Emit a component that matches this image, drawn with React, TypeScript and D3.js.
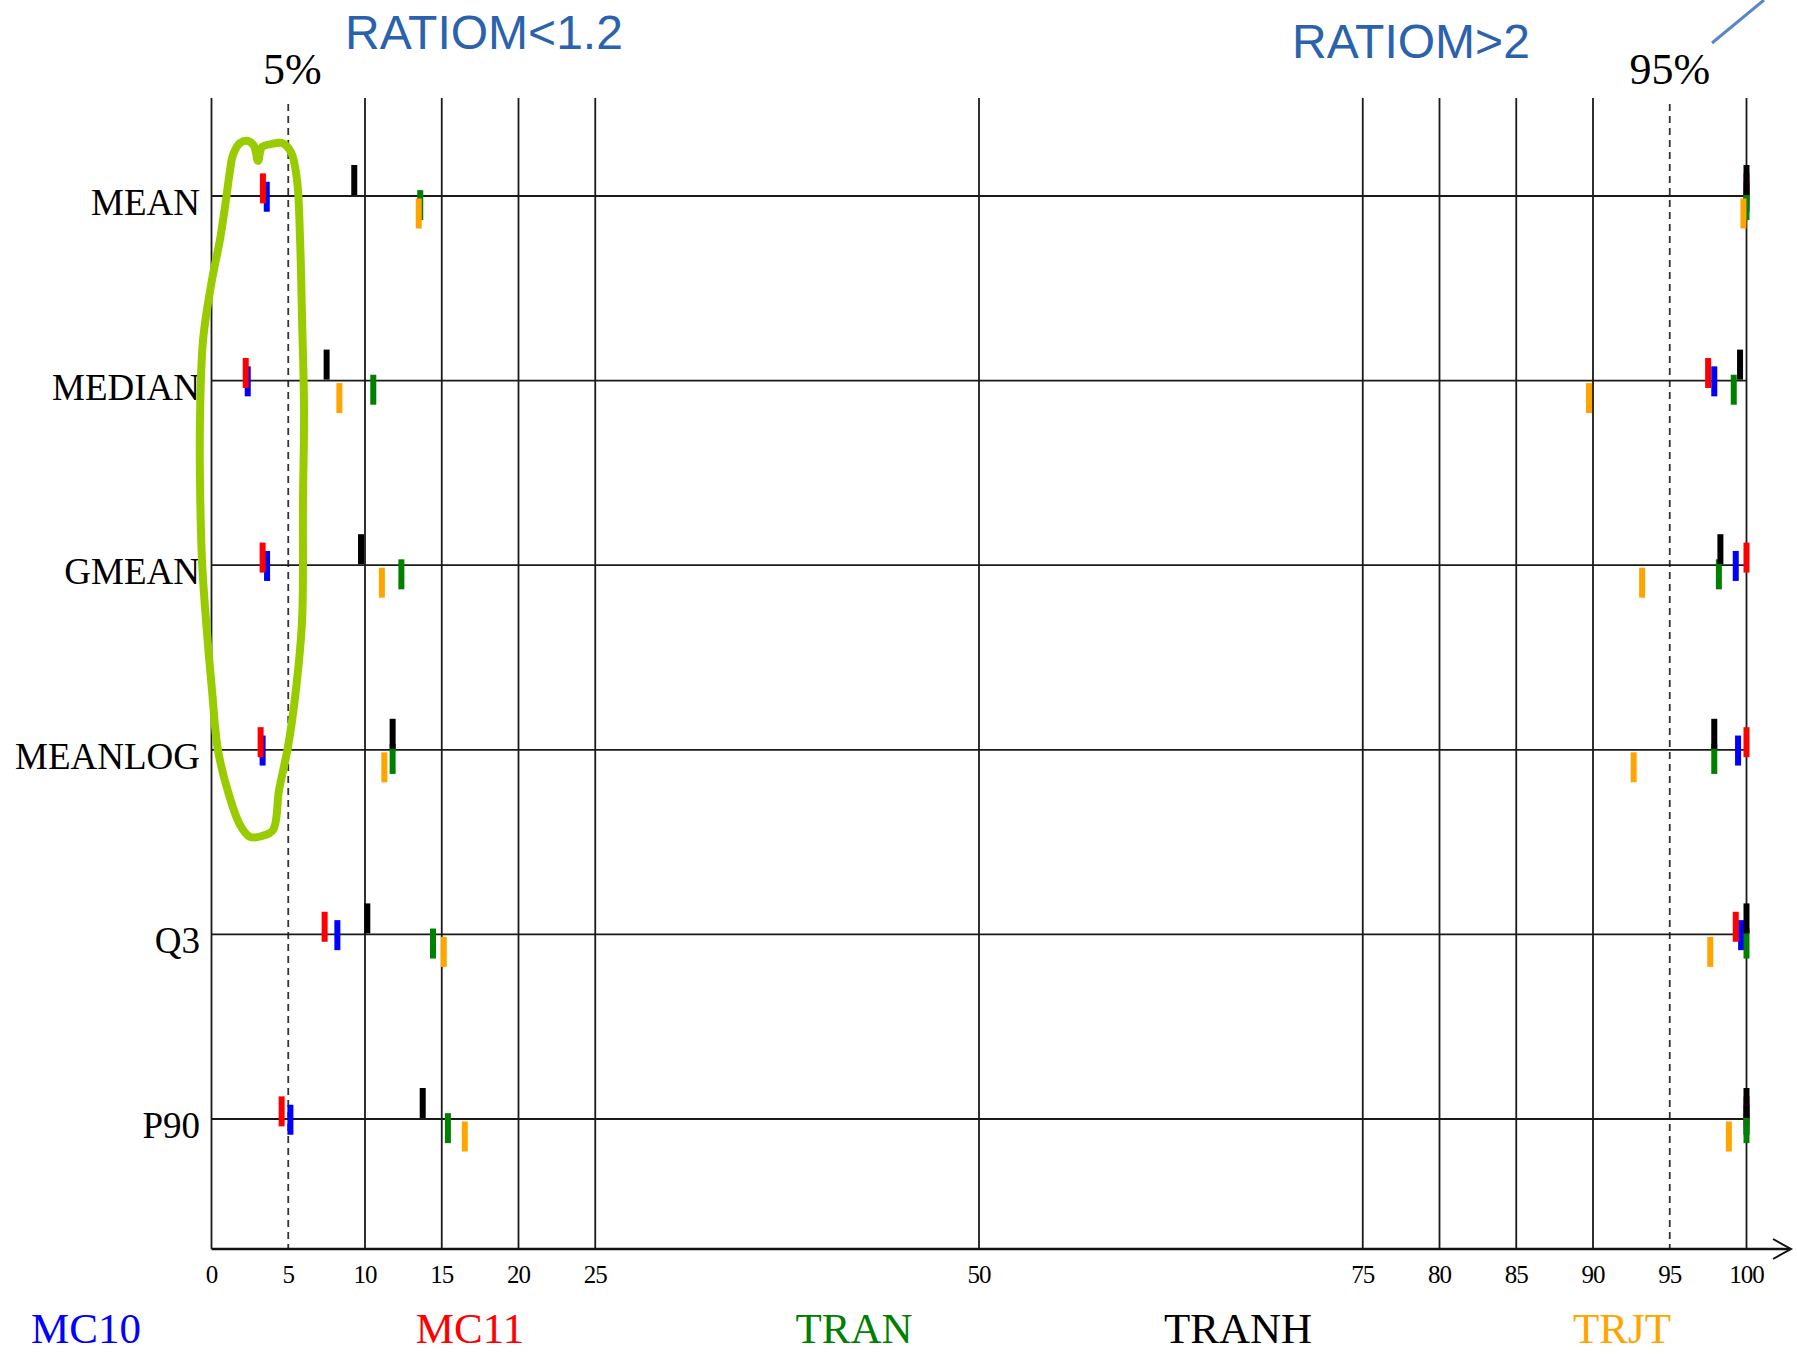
import React from 'react';
import * as d3 from 'd3';

// row categories (top to bottom)
const rows = ['MEAN', 'MEDIAN', 'GMEAN', 'MEANLOG', 'Q3', 'P90'];

// series, in legend (and drawing) order
const seriesNames = ['MC10', 'MC11', 'TRAN', 'TRANH', 'TRJT'];
const seriesColors = ['#0000ff', '#ff0000', '#008000', '#000000', '#ffa500'];

// percentages where RATIOM < 1.2 (left cluster)
const mc10Low = [3.6, 2.36, 3.62, 3.33, 8.2, 5.14];
const mc11Low = [3.35, 2.23, 3.33, 3.2, 7.37, 4.57];
const tranLow = [13.6, 10.54, 12.37, 11.8, 14.43, 15.4];
const tranhLow = [9.3, 7.5, 9.74, 11.8, 10.15, 13.76];
const trjtLow = [13.5, 8.33, 11.1, 11.26, 15.13, 16.5];

// percentages where RATIOM > 2 (right cluster)
const mc10High = [100, 97.9, 99.3, 99.45, 99.65, 100];
const mc11High = [100, 97.5, 100, 100, 99.3, 100];
const tranHigh = [100, 99.17, 98.2, 97.9, 100, 100];
const tranhHigh = [100, 99.58, 98.3, 97.9, 100, 100];
const trjtHigh = [99.8, 89.74, 93.2, 92.65, 97.64, 98.85];

const lowValues = [mc10Low, mc11Low, tranLow, tranhLow, trjtLow];
const highValues = [mc10High, mc11High, tranHigh, tranhHigh, trjtHigh];

// axis ticks and grid
const tickValues = [0, 5, 10, 15, 20, 25, 50, 75, 80, 85, 90, 95, 100];
const gridSolid = [0, 10, 15, 20, 25, 50, 75, 80, 85, 90, 100];
const gridDashed = [5, 95];

// hand drawn highlight, [percent, row position]
const highlight: [number, number][] = [
  [1.4, -0.222], [1.86, -0.287], [2.38, -0.298], [2.77, -0.271], [3.03, -0.19],
  [3.29, -0.265], [3.94, -0.282], [4.59, -0.287], [5.18, -0.238], [5.57, -0.087],
  [5.77, 0.238], [5.9, 0.672], [6.03, 1.159], [5.96, 1.647], [5.9, 2.297],
  [5.5, 2.676], [4.98, 2.985], [4.4, 3.218], [4.01, 3.434], [3.29, 3.467],
  [2.51, 3.472], [1.86, 3.407], [1.14, 3.245], [0.42, 3.001], [0.03, 2.676],
  [-0.36, 2.297], [-0.62, 1.972], [-0.75, 1.538], [-0.75, 1.213], [-0.55, 0.78],
  [0.03, 0.455], [0.55, 0.238], [0.94, 0.022], [1.21, -0.141],
];

const W = 1797;
const H = 1354;
const plotTop = 98;
const axisY = 1249;
const barW = 6;
const barH = 30;

const App = () => {
  const x = d3.scaleLinear().domain([0, 100]).range([211.5, 1746.5]);
  const y = d3.scaleLinear().domain([0, rows.length - 1]).range([196, 1119]);
  // vertical offset of each series' bar top relative to its row line
  const barTop = d3.scalePoint<string>()
    .domain(['TRANH', 'MC11', 'MC10', 'TRAN', 'TRJT'])
    .range([-31, 2.5]);
  const legendX = d3.scalePoint<string>().domain(seriesNames).range([86, 1622]);

  const highlightPath = d3.line<[number, number]>()
    .x(d => x(d[0]))
    .y(d => y(d[1]))
    .curve(d3.curveCatmullRomClosed.alpha(0.5))(highlight);

  const serif = 'Liberation Serif, Times New Roman, serif';

  return (
    <svg width={W} height={H} style={{ position: 'absolute', left: 0, top: 0, background: '#fff' }}>
      {/* grid */}
      {gridSolid.map(v => (
        <line key={'g' + v} x1={x(v)} x2={x(v)} y1={plotTop} y2={axisY} stroke="#1a1a1a" strokeWidth={1.8} />
      ))}
      {gridDashed.map(v => (
        <line key={'d' + v} x1={x(v)} x2={x(v)} y1={plotTop + 6} y2={axisY} stroke="#333" strokeWidth={1.8} strokeDasharray="7,5" />
      ))}
      {rows.map((r, i) => (
        <line key={'h' + r} x1={x(0)} x2={x(100)} y1={y(i)} y2={y(i)} stroke="#1a1a1a" strokeWidth={1.8} />
      ))}

      {/* row labels */}
      {rows.map((r, i) => (
        <text key={'l' + r} x={200} y={y(i) + 19} textAnchor="end" fontFamily={serif} fontSize={37} fill="#000">
          {r}
        </text>
      ))}

      {/* bars */}
      {seriesNames.map((s, si) => (
        <g key={s} fill={seriesColors[si]}>
          {[lowValues[si], highValues[si]].map((vals, k) =>
            vals.map((v, i) => (
              <rect key={k + '-' + i} x={x(v) - barW / 2} y={y(i) + (barTop(s) as number)} width={barW} height={barH} />
            ))
          )}
        </g>
      ))}

      {/* x axis */}
      <line x1={x(0)} x2={1790} y1={axisY} y2={axisY} stroke="#111" strokeWidth={2.4} />
      <polyline points={`1773,1239 1791,${axisY} 1773,1259`} fill="none" stroke="#111" strokeWidth={2} />
      {tickValues.map(v => (
        <text key={'t' + v} x={x(v)} y={1283} textAnchor="middle" fontFamily={serif} fontSize={25} letterSpacing={-1} fill="#000">
          {v}
        </text>
      ))}

      {/* percentile markers */}
      <text x={x(5) + 4} y={84} textAnchor="middle" fontFamily={serif} fontSize={44} fill="#000">5%</text>
      <text x={x(95)} y={84} textAnchor="middle" fontFamily={serif} fontSize={44} fill="#000">95%</text>

      {/* annotations */}
      <text x={345} y={49} fontFamily="Liberation Sans, Arial, sans-serif" fontSize={48} fill="#2b62ad">RATIOM&lt;1.2</text>
      <text x={1292} y={58} fontFamily="Liberation Sans, Arial, sans-serif" fontSize={48} fill="#2b62ad">RATIOM&gt;2</text>
      <line x1={1712} y1={43} x2={1764} y2={0} stroke="#5a86c6" strokeWidth={3} />
      <path d={highlightPath ?? ''} fill="none" stroke="#99cc00" strokeWidth={8} strokeLinejoin="round" />

      {/* legend */}
      {seriesNames.map((s, si) => (
        <text key={'lg' + s} x={legendX(s)} y={1343} textAnchor="middle" fontFamily={serif} fontSize={43} fill={seriesColors[si]}>
          {s}
        </text>
      ))}
    </svg>
  );
};

export default App;
